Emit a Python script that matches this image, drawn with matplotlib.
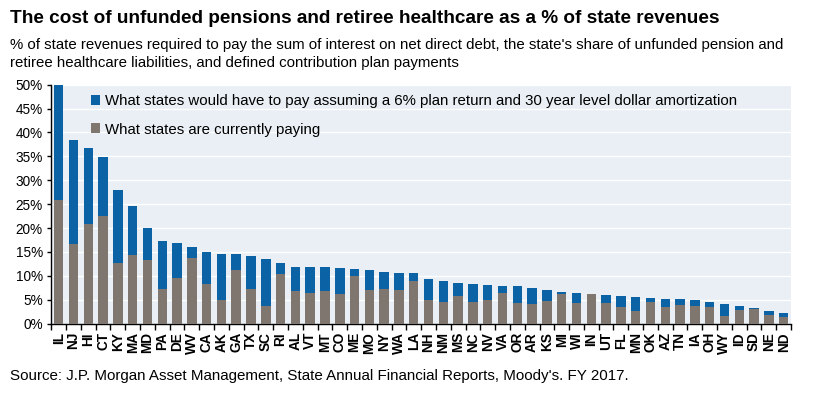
import numpy as np
import matplotlib
matplotlib.use('Agg')
import matplotlib.pyplot as plt
from matplotlib.ticker import FixedLocator, PercentFormatter

# 数据：各州名称、总成本（蓝色柱顶）、当前支付（灰色）
states = ['IL', 'NJ', 'HI', 'CT', 'KY', 'MA', 'MD', 'PA', 'DE', 'WV',
          'CA', 'AK', 'GA', 'TX', 'SC', 'RI', 'AL', 'VT', 'MT', 'CO',
          'ME', 'MO', 'NY', 'WA', 'LA', 'NH', 'NM', 'MS', 'NC', 'NV',
          'VA', 'OR', 'AR', 'KS', 'MI', 'WI', 'IN', 'UT', 'FL', 'MN',
          'OK', 'AZ', 'TN', 'IA', 'OH', 'WY', 'ID', 'SD', 'NE', 'ND']
total = [50.0, 38.4, 36.8, 34.9, 28.0, 24.7, 20.1, 17.3, 16.9, 16.1,
         14.9, 14.6, 14.6, 14.1, 13.5, 12.6, 11.9, 11.9, 11.8, 11.6,
         11.5, 11.3, 10.9, 10.7, 10.5, 9.3, 8.9, 8.6, 8.2, 8.0,
         7.9, 7.9, 7.5, 7.0, 6.7, 6.5, 6.3, 6.1, 5.8, 5.6,
         5.4, 5.2, 5.1, 5.0, 4.6, 4.1, 3.6, 3.3, 2.7, 2.2]
current = [25.9, 16.7, 20.9, 22.5, 12.6, 14.4, 13.3, 7.2, 9.6, 13.7,
           8.4, 5.0, 11.2, 7.3, 3.6, 10.3, 6.8, 6.4, 6.8, 6.2,
           10.0, 7.0, 7.3, 7.0, 8.9, 5.0, 4.5, 5.8, 4.5, 4.9,
           6.4, 4.3, 4.1, 4.7, 6.3, 4.4, 6.3, 4.3, 3.5, 2.6,
           4.5, 3.5, 3.9, 3.7, 3.5, 1.6, 2.9, 3.1, 1.8, 1.3]
yticks = [0, 5, 10, 15, 20, 25, 30, 35, 40, 45, 50]

label_total = 'What states would have to pay assuming a 6% plan return and 30 year level dollar amortization'
label_current = 'What states are currently paying'

blue = '#0B62A4'
grey = '#7F766F'

plt.rcParams['font.family'] = ['Liberation Sans', 'DejaVu Sans']

fig = plt.figure(figsize=(8.27, 4.19), dpi=100)
ax = fig.add_axes([0.062, 0.2275, 0.8945, 0.5704])
ax.set_facecolor('#E9EFF4')

x = np.arange(len(states))
cur = np.array(current)
extra = np.array(total) - cur
ax.bar(x, cur, width=0.64, color=grey, label=label_current, zorder=3)
ax.bar(x, extra, bottom=cur, width=0.64, color=blue, label=label_total, zorder=3)

ax.set_xlim(-0.5, len(states) - 0.5)
ax.set_ylim(0, 50)
ax.set_yticks(yticks)
ax.yaxis.set_major_formatter(PercentFormatter(decimals=0))
ax.grid(axis='y', color='white', linewidth=1, zorder=1)
ax.set_axisbelow(True)

ax.set_xticks(x)
ax.set_xticklabels(states, rotation=90, fontsize=9.8, fontweight='bold')
ax.xaxis.set_minor_locator(FixedLocator(np.arange(-0.5, len(states), 1)))
ax.tick_params(axis='x', which='major', length=0, pad=6)
ax.tick_params(axis='x', which='minor', length=4, width=1, direction='out')
ax.tick_params(axis='y', length=3, width=1, labelsize=9.8, pad=3)

for s in ['top', 'right']:
    ax.spines[s].set_visible(False)
ax.spines['left'].set_linewidth(1)
ax.spines['bottom'].set_linewidth(1)

h, l = ax.get_legend_handles_labels()
ax.legend(h[::-1], l[::-1], loc='upper left', bbox_to_anchor=(0.040, 1.0),
          frameon=False, fontsize=10.8, handlelength=0.65, handleheight=0.65,
          handletextpad=0.3, labelspacing=0.95, borderaxespad=0.25)

fig.text(0.012, 0.957, 'The cost of unfunded pensions and retiree healthcare as a % of state revenues',
         fontsize=13.7, fontweight='bold', va='center')
fig.text(0.012, 0.893, "% of state revenues required to pay the sum of interest on net direct debt, the state's share of unfunded pension and",
         fontsize=10.8, va='center')
fig.text(0.012, 0.850, 'retiree healthcare liabilities, and defined contribution plan payments',
         fontsize=10.8, va='center')
fig.text(0.012, 0.103, "Source: J.P. Morgan Asset Management, State Annual Financial Reports, Moody's. FY 2017.",
         fontsize=10.9, va='center')

fig.savefig('out.png', dpi=100)
